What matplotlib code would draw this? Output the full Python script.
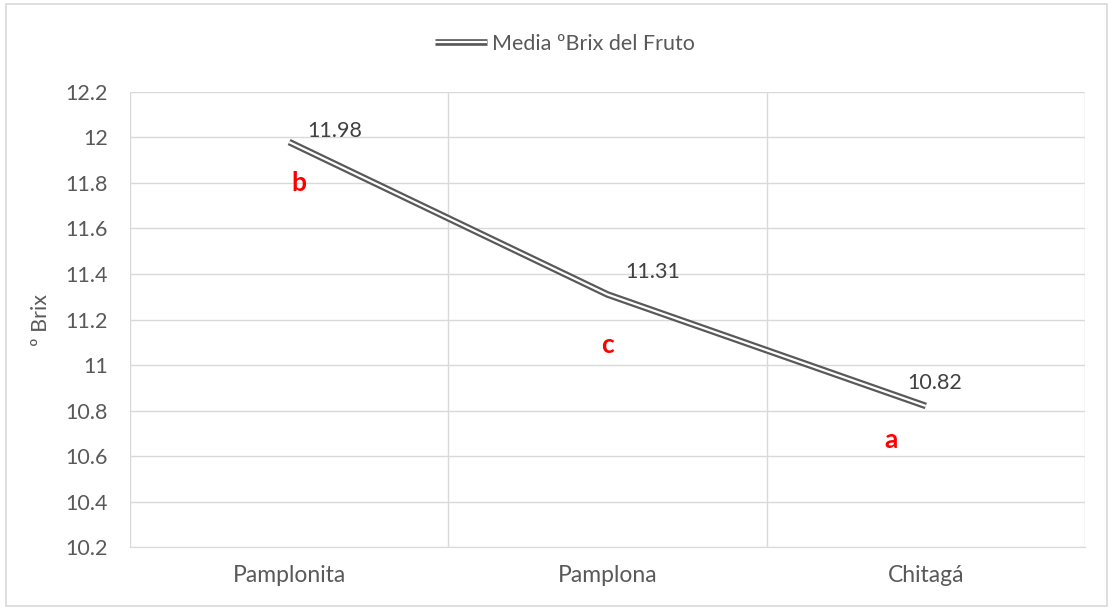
import matplotlib.pyplot as plt
import matplotlib.patheffects as pe
from matplotlib.patches import Rectangle

# --- data ---
sites = ["Pamplonita", "Pamplona", "Chitagá"]
brix_mean = [11.98, 11.31, 10.82]
letters = ["b", "c", "a"]
letter_y = [11.80, 11.09, 10.67]
letter_dx = [0.03, 0.0, -0.11]
# label offsets (points) for the value labels
label_off = [(13, 8), (13, 16.5), (-13, 16.5)]

plt.rcParams['font.family'] = ['Lato', 'DejaVu Sans']
txt = '#595959'
grid = '#d9d9d9'

fig = plt.figure(figsize=(11.13, 6.08), dpi=100)
ax = fig.add_axes([0.1168, 0.1003, 0.858, 0.7484])

x = list(range(len(sites)))
ax.plot(x, brix_mean, color='white', lw=1.6, solid_capstyle='butt',
        label='Media ºBrix del Fruto',
        path_effects=[pe.Stroke(linewidth=4.8, foreground='#595959', capstyle='butt'), pe.Normal()])

# data labels
for xi, v, off in zip(x, brix_mean, label_off):
    ax.annotate(f"{v:.2f}", (xi, v), xytext=off, textcoords='offset points',
                fontsize=15.5, color='#404040', ha='left', va='center')

# significance letters
for xi, ly, dx, l in zip(x, letter_y, letter_dx, letters):
    ax.text(xi + dx, ly, l, color='red', fontsize=19, fontweight='bold', ha='center', va='center')

ax.set_xlim(-0.5, 2.5)
ax.set_ylim(10.2, 12.2)
ax.set_yticks([10.2 + 0.2 * i for i in range(11)])
ax.set_yticklabels(['10.2', '10.4', '10.6', '10.8', '11', '11.2', '11.4', '11.6', '11.8', '12', '12.2'])
ax.set_xticks(x)
ax.set_xticklabels(sites)
ax.set_xticks([-0.5, 0.5, 1.5, 2.5], minor=True)
ax.tick_params(axis='both', which='both', length=0, labelsize=15.5, colors=txt)
ax.tick_params(axis='x', pad=13, labelsize=16.5)
ax.tick_params(axis='y', pad=16)
ax.grid(True, axis='y', color=grid, lw=1)
ax.grid(True, axis='x', which='minor', color=grid, lw=1)
for s in ax.spines.values():
    s.set_visible(False)
ax.spines['bottom'].set_visible(True)
ax.spines['bottom'].set_color(grid)

ax.set_ylabel('º Brix', fontsize=15.5, color=txt, labelpad=10)

leg = fig.legend(loc='center', bbox_to_anchor=(0.508, 0.928), frameon=False,
                 fontsize=15.5, handlelength=2.4, handletextpad=0.25)
for t in leg.get_texts():
    t.set_color(txt)

fig.patches.append(Rectangle((0.005, 0.004), 0.99, 0.99, transform=fig.transFigure,
                             fill=False, edgecolor=grid, lw=1.2))

fig.savefig('out.png', dpi=100)
